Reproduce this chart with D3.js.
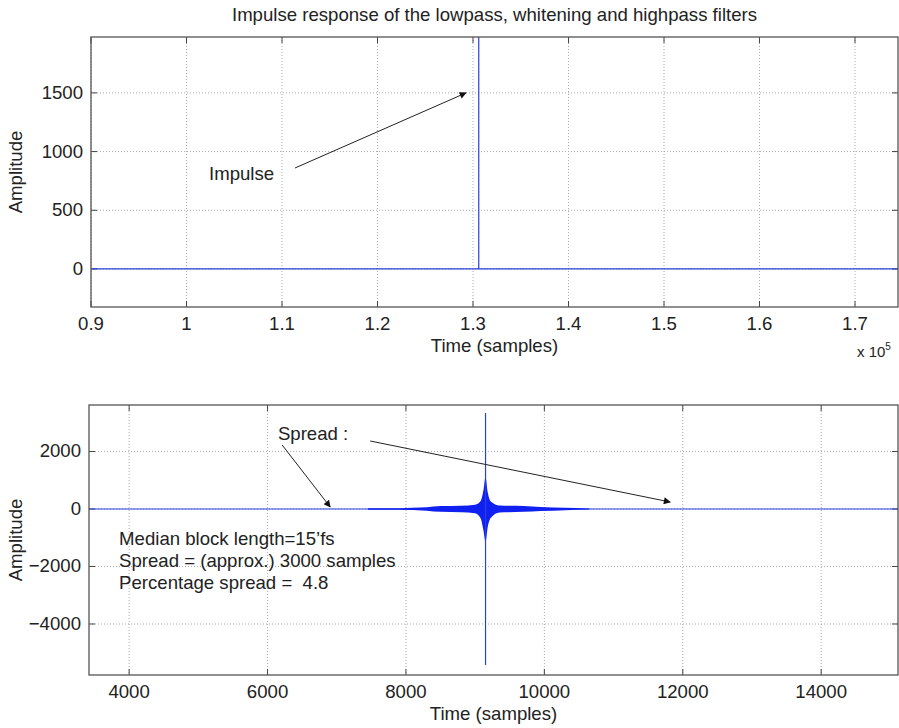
<!DOCTYPE html>
<html>
<head>
<meta charset="utf-8">
<script src="https://cdn.jsdelivr.net/npm/d3@7"></script>
<style>
body { margin: 0; background: #fff; }
svg text { font-family: "Liberation Sans", Arial, sans-serif; fill: #222; }
</style>
</head>
<body>
<svg id="chart" width="899" height="728"></svg>
<script>
// ---- top panel: the impulse ----
var topTime = [90000, 130600, 130600, 130600, 174500];
var topAmp = [0, 0, 2000, 0, 0];
var topXTicks = [90000, 100000, 110000, 120000, 130000, 140000, 150000, 160000, 170000];
var topXLabels = ["0.9", "1", "1.1", "1.2", "1.3", "1.4", "1.5", "1.6", "1.7"];
var topYTicks = [0, 500, 1000, 1500];

// ---- bottom panel: filtered response ----
var bottomXTicks = [4000, 6000, 8000, 10000, 12000, 14000];
var bottomYTicks = [-4000, -2000, 0, 2000];
var baseTime = [3420, 15110];
var baseAmp = [0, 0];
// envelope of the dense burst around the spike
var burstTime = [7450, 7900, 8300, 8500, 8800, 9000, 9080, 9120, 9150, 9180, 9230, 9350, 9700, 9950, 10300, 10650];
var burstUpper = [25, 30, 60, 100, 110, 150, 280, 650, 1110, 600, 250, 120, 100, 70, 40, 15];
var burstLower = [-25, -30, -60, -100, -110, -150, -330, -750, -1150, -650, -300, -120, -100, -70, -40, -15];
var spikeTime = 9150, spikeMax = 3340, spikeMin = -5430;

var blue = "#2a3fe0";
var fs = "18.6px";
var svg = d3.select("#chart");

svg.append("defs").append("marker")
    .attr("id", "head")
    .attr("viewBox", "0 0 10 10")
    .attr("refX", 9).attr("refY", 5)
    .attr("markerWidth", 10).attr("markerHeight", 7)
    .attr("markerUnits", "userSpaceOnUse")
    .attr("orient", "auto")
    .append("path")
    .attr("d", "M0,0 L10,5 L0,10 z")
    .attr("fill", "#111");

// draws box, grid, ticks, labels for one panel
function panel(box, x, y, xTicks, xFmt, yTicks) {
    var g = svg.append("g");
    var id = "clip" + box.top;
    svg.select("defs").append("clipPath").attr("id", id)
        .append("rect")
        .attr("x", box.left).attr("y", box.top)
        .attr("width", box.right - box.left).attr("height", box.bottom - box.top);

    // grid
    g.selectAll(".vg").data(xTicks).enter().append("line")
        .attr("x1", d => x(d)).attr("x2", d => x(d))
        .attr("y1", box.top).attr("y2", box.bottom)
        .attr("stroke", "#aaa").attr("stroke-dasharray", "1,2");
    g.selectAll(".hg").data(yTicks).enter().append("line")
        .attr("x1", box.left).attr("x2", box.right)
        .attr("y1", d => y(d)).attr("y2", d => y(d))
        .attr("stroke", "#aaa").attr("stroke-dasharray", "1,2");

    // inward ticks
    var tl = 6;
    xTicks.forEach(function (t) {
        g.append("line").attr("x1", x(t)).attr("x2", x(t)).attr("y1", box.bottom).attr("y2", box.bottom - tl).attr("stroke", "#444");
        g.append("line").attr("x1", x(t)).attr("x2", x(t)).attr("y1", box.top).attr("y2", box.top + tl).attr("stroke", "#444");
    });
    yTicks.forEach(function (t) {
        g.append("line").attr("y1", y(t)).attr("y2", y(t)).attr("x1", box.left).attr("x2", box.left + tl).attr("stroke", "#444");
        g.append("line").attr("y1", y(t)).attr("y2", y(t)).attr("x1", box.right).attr("x2", box.right - tl).attr("stroke", "#444");
    });

    // tick labels
    g.selectAll(".xl").data(xTicks).enter().append("text")
        .attr("x", d => x(d)).attr("y", box.bottom + 23)
        .attr("text-anchor", "middle").style("font-size", fs)
        .text((d, i) => xFmt(d, i));
    g.selectAll(".yl").data(yTicks).enter().append("text")
        .attr("x", box.left - 8).attr("y", d => y(d) + 6)
        .attr("text-anchor", "end").style("font-size", fs)
        .text(d => d < 0 ? "\u2212" + Math.abs(d) : d);

    // axis labels
    g.append("text")
        .attr("x", (box.left + box.right) / 2).attr("y", box.bottom + 45)
        .attr("text-anchor", "middle").style("font-size", fs)
        .text("Time (samples)");
    g.append("text")
        .attr("transform", "translate(22," + (box.top + box.bottom) / 2 + ") rotate(-90)")
        .attr("text-anchor", "middle").style("font-size", fs)
        .text("Amplitude");
    return { g: g, clip: "url(#" + id + ")" };
}

// ---- top panel ----
var topBox = { left: 91, right: 898, top: 37, bottom: 307 };
var x1 = d3.scaleLinear().domain([90000, 174500]).range([topBox.left, topBox.right]);
var y1 = d3.scaleLinear().domain([-324, 1976]).range([topBox.bottom, topBox.top]);
var p1 = panel(topBox, x1, y1, topXTicks, (d, i) => topXLabels[i], topYTicks);

p1.g.append("path")
    .datum(topTime.map((t, i) => [t, topAmp[i]]))
    .attr("clip-path", p1.clip)
    .attr("fill", "none").attr("stroke", blue).attr("stroke-width", 1.2)
    .attr("d", d3.line().x(d => x1(d[0])).y(d => y1(d[1])));

svg.append("rect").attr("x", topBox.left).attr("y", topBox.top)
    .attr("width", topBox.right - topBox.left).attr("height", topBox.bottom - topBox.top)
    .attr("fill", "none").attr("stroke", "#555").attr("stroke-width", 1.3);

var mult = svg.append("text").attr("x", 857).attr("y", 357).style("font-size", "15px");
mult.append("tspan").text("x 10");
mult.append("tspan").attr("dy", -7).style("font-size", "10px").text("5");

svg.append("text")
    .attr("x", (topBox.left + topBox.right) / 2).attr("y", 21)
    .attr("text-anchor", "middle").style("font-size", "18.6px")
    .text("Impulse response of the lowpass, whitening and highpass filters");

svg.append("text").attr("x", x1(102360)).attr("y", y1(758))
    .style("font-size", fs).text("Impulse");
svg.append("line")
    .attr("x1", x1(111360)).attr("y1", y1(860))
    .attr("x2", x1(129270)).attr("y2", y1(1500))
    .attr("stroke", "#222").attr("stroke-width", 1).attr("marker-end", "url(#head)");

// ---- bottom panel ----
var botBox = { left: 89, right: 898, top: 405, bottom: 675 };
var x2 = d3.scaleLinear().domain([3420, 15110]).range([botBox.left, botBox.right]);
var y2 = d3.scaleLinear().domain([-5774, 3617]).range([botBox.bottom, botBox.top]);
var p2 = panel(botBox, x2, y2, bottomXTicks, d => d, bottomYTicks);

p2.g.append("path")
    .datum(baseTime.map((t, i) => [t, baseAmp[i]]))
    .attr("fill", "none").attr("stroke", blue).attr("stroke-width", 1.2)
    .attr("d", d3.line().x(d => x2(d[0])).y(d => y2(d[1])));

p2.g.append("path")
    .datum(burstTime.map((t, i) => [t, burstUpper[i], burstLower[i]]))
    .attr("fill", "#1020f0")
    .attr("d", d3.area().x(d => x2(d[0])).y0(d => y2(d[2])).y1(d => y2(d[1])).curve(d3.curveMonotoneX));

p2.g.append("line")
    .attr("x1", x2(spikeTime)).attr("x2", x2(spikeTime))
    .attr("y1", y2(spikeMax)).attr("y2", y2(spikeMin))
    .attr("stroke", blue).attr("stroke-width", 1.2);

svg.append("rect").attr("x", botBox.left).attr("y", botBox.top)
    .attr("width", botBox.right - botBox.left).attr("height", botBox.bottom - botBox.top)
    .attr("fill", "none").attr("stroke", "#555").attr("stroke-width", 1.3);

svg.append("text").attr("x", x2(6150)).attr("y", y2(2400))
    .style("font-size", fs).text("Spread :");
svg.append("line")
    .attr("x1", x2(6211)).attr("y1", y2(2226))
    .attr("x2", x2(6905)).attr("y2", y2(70))
    .attr("stroke", "#222").attr("marker-end", "url(#head)");
svg.append("line")
    .attr("x1", x2(7483)).attr("y1", y2(2365))
    .attr("x2", x2(11818)).attr("y2", y2(243))
    .attr("stroke", "#222").attr("marker-end", "url(#head)");

var notes = ["Median block length=15\u2019fs", "Spread = (approx.) 3000 samples", "Percentage spread =  4.8"];
svg.selectAll(".note").data(notes).enter().append("text")
    .attr("x", x2(3855)).attr("y", (d, i) => y2(-1240) + i * 22)
    .style("font-size", fs).style("white-space", "pre").text(d => d);
</script>
</body>
</html>
